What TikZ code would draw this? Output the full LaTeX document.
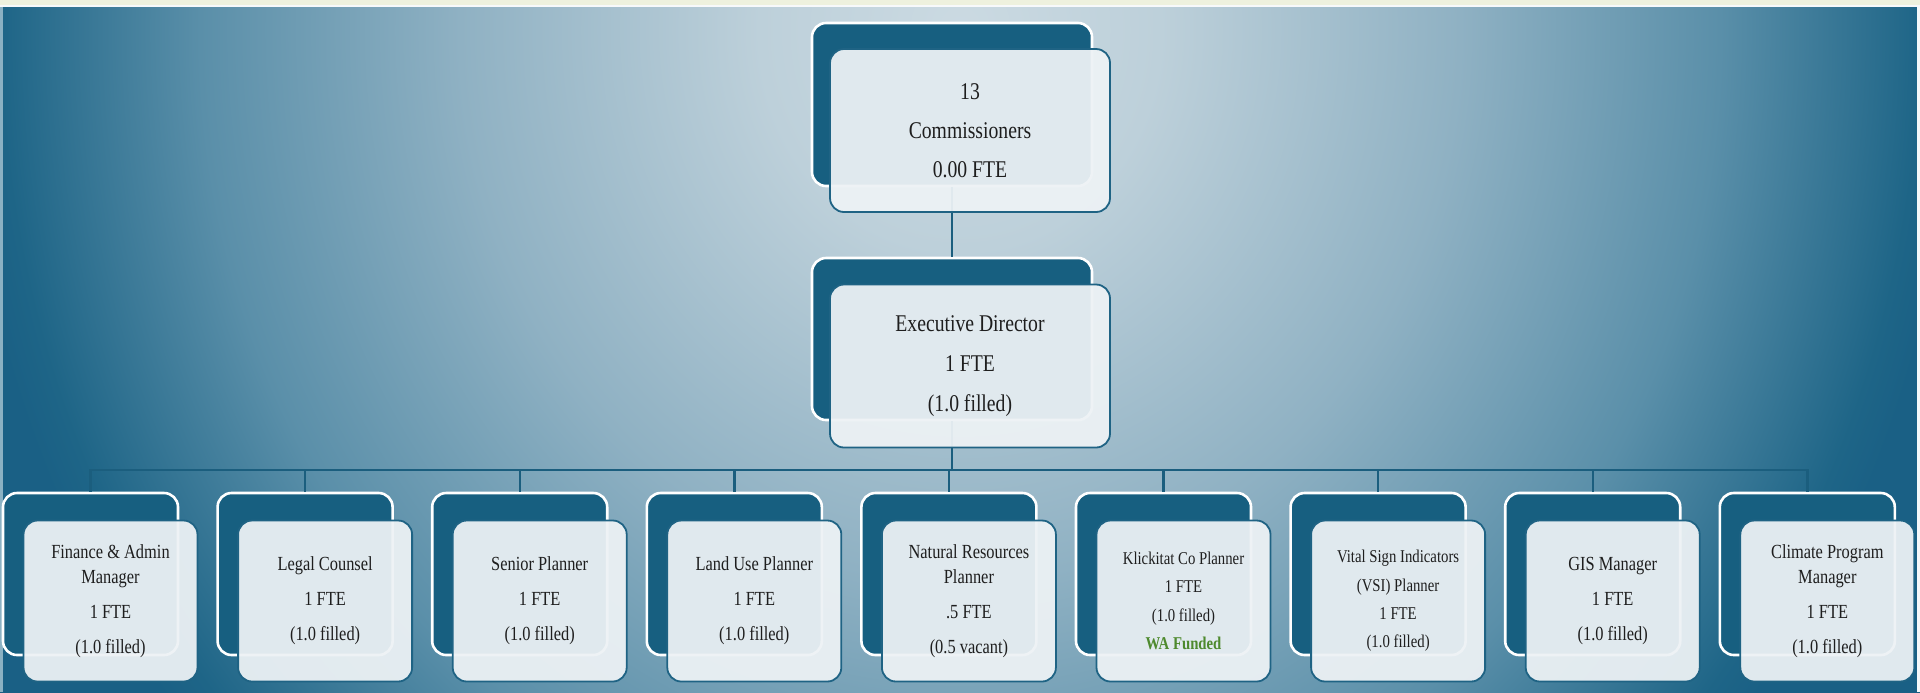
\documentclass[tikz,border=0pt]{standalone}
\usepackage{fontspec}
\setmainfont{Liberation Serif}[FakeStretch=0.82]
\usepackage{tikz}
\usetikzlibrary{positioning, calc}

\definecolor{tileblue}{HTML}{175F80}
\definecolor{cardfill}{HTML}{EDF2F5}
\definecolor{cardline}{HTML}{1F6384}
\definecolor{linkblue}{HTML}{1B5E7E}
\definecolor{fundgreen}{HTML}{4E8A2E}
\definecolor{inkgray}{HTML}{1E1E1E}
\definecolor{topcream}{HTML}{EEF1DE}
\definecolor{bgA}{HTML}{CBDAE2}
\definecolor{bgB}{HTML}{BDD0DA}
\definecolor{bgC}{HTML}{8FB1C3}
\definecolor{bgD}{HTML}{5A8FA9}
\definecolor{bgE}{HTML}{1E6587}
\definecolor{bgF}{HTML}{1A6085}

\pgfdeclareradialshading{orgbg}{\pgfpoint{0bp}{0bp}}{%
  color(0bp)=(bgA); color(5bp)=(bgB); color(12.5bp)=(bgC);
  color(19bp)=(bgD); color(24bp)=(bgE); color(25bp)=(bgF); color(50bp)=(bgF)}

\begin{document}
\begin{tikzpicture}[
    x=0.5pt, y=-0.5pt,
    tile/.style={fill=tileblue, draw=white, line width=1.3pt, rounded corners=7pt,
      minimum width=87.5pt, minimum height=81pt, inner sep=0pt},
    card/.style={fill=cardfill, fill opacity=0.94, text opacity=1, draw=cardline,
      line width=0.9pt, rounded corners=7pt, minimum width=87pt, minimum height=80.5pt,
      inner sep=2pt, align=center, text=inkgray},
    topcard/.style={card, minimum width=140pt, minimum height=81.5pt,
      font=\fontsize{12}{19.5}\selectfont},
    stafftext/.style={font=\fontsize{10}{12.5}\selectfont},
    packtext/.style={font=\fontsize{9}{14.2}\selectfont},
    link/.style={draw=linkblue, line width=1.2pt}
]
    \useasboundingbox (0,0) rectangle (1920,692);
    % background
    \begin{scope}
        \clip (0,0) rectangle (1920,692);
        \shade[shading=orgbg] (-40,-1070) rectangle (1960,1130);
        \fill[topcream] (0,0) rectangle (1920,5);
        \fill[white!85!bgA] (0,5) rectangle (1920,7);
        \fill[bgD!70!white] (0,7) rectangle (3,692);
        \fill[white!80!bgA] (1917,7) rectangle (1920,692);
    \end{scope}

    % dark tiles
    \node[tile, minimum width=140pt, minimum height=81.5pt] (comm) at (952,104.5) {};
    \node[tile, minimum width=140pt, minimum height=81pt] (exec) at (952,339) {};
    \foreach \i in {0,...,8}
        \node[tile] (role\i) at ({90.5+214.6*\i},574) {};
    \coordinate (bus) at (952,470);

    % connectors
    \draw[link] (comm.south) -- (exec.north);
    \foreach \i in {0,...,8}
        \draw[link] (exec.south) -- (exec.south |- bus) -| (role\i.north);

    % light cards
    \node[topcard] (commcard) at ($(comm)+(18,26)$) {13\\Commissioners\\0.00 FTE};
    \node[topcard, font=\fontsize{12}{20}\selectfont] (execcard) at ($(exec)+(18,27)$)
        {Executive Director\\1 FTE\\(1.0 filled)};
    \foreach \i/\look/\txt in {
        0/stafftext/{Finance \& Admin\\Manager\\[5pt]1 FTE\\[5pt](1.0 filled)},
        1/stafftext/{Legal Counsel\\[5pt]1 FTE\\[5pt](1.0 filled)},
        2/stafftext/{Senior Planner\\[5pt]1 FTE\\[5pt](1.0 filled)},
        3/stafftext/{Land Use Planner\\[5pt]1 FTE\\[5pt](1.0 filled)},
        4/stafftext/{Natural Resources\\Planner\\[5pt].5 FTE\\[5pt](0.5 vacant)},
        5/packtext/{Klickitat Co Planner\\1 FTE\\(1.0 filled)\\{\bfseries\color{fundgreen}WA Funded}},
        6/packtext/{Vital Sign Indicators\\(VSI) Planner\\1 FTE\\(1.0 filled)},
        7/stafftext/{GIS Manager\\[5pt]1 FTE\\[5pt](1.0 filled)},
        8/stafftext/{Climate Program\\Manager\\[5pt]1 FTE\\[5pt](1.0 filled)}}
        \node[card, \look] (card\i) at ($(role\i)+(20,27)$) {\txt};
\end{tikzpicture}
\end{document}
